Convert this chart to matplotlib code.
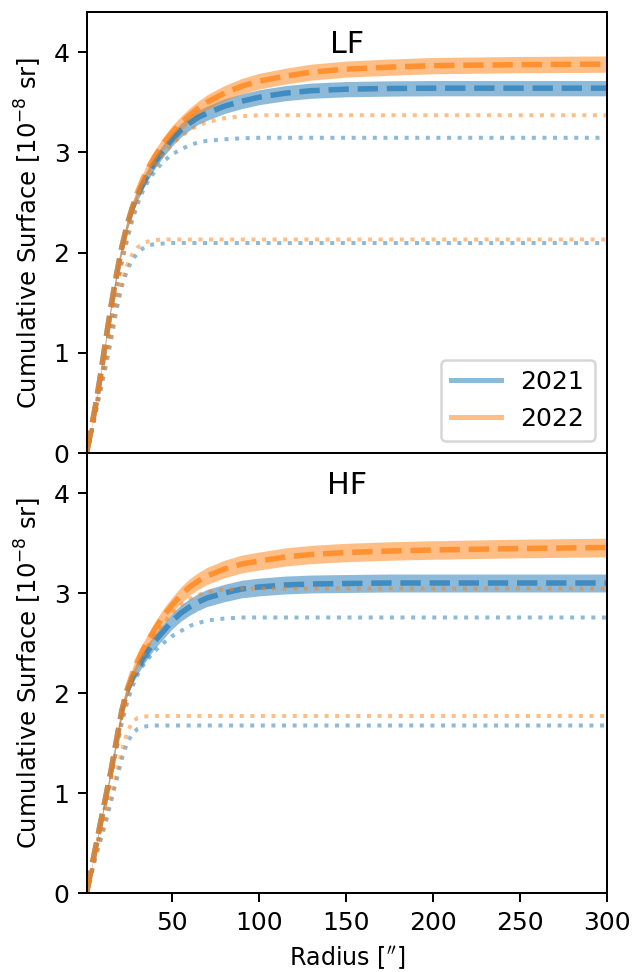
import numpy as np
import matplotlib
matplotlib.use("Agg")
import matplotlib.pyplot as plt
from matplotlib.lines import Line2D

# Radii at which the cumulative surfaces are tabulated [arcsec]
radius = [1, 3, 6, 9, 12, 15, 18, 21, 24, 27, 30, 33, 36, 40, 45,
          50, 55, 60, 65, 70, 80, 90, 100, 115, 130, 150, 175, 200, 250, 300]

# LF band, cumulative surface [1e-8 sr]
lf_2021 = [0.02, 0.20, 0.48, 0.80, 1.15, 1.48, 1.78, 2.05, 2.27, 2.44,
           2.57, 2.68, 2.78, 2.90, 3.02, 3.13, 3.22, 3.29, 3.35, 3.39,
           3.46, 3.51, 3.55, 3.59, 3.615, 3.63, 3.637, 3.64, 3.64, 3.64]
lf_2022 = [0.02, 0.20, 0.48, 0.80, 1.15, 1.48, 1.78, 2.05, 2.27, 2.45,
           2.60, 2.73, 2.84, 2.96, 3.09, 3.20, 3.29, 3.37, 3.44, 3.50,
           3.59, 3.66, 3.71, 3.76, 3.80, 3.83, 3.85, 3.865, 3.875, 3.88]
lf_2021_dot_hi = [0.00, 0.17, 0.44, 0.73, 1.03, 1.34, 1.63, 1.90, 2.12, 2.32,
                  2.48, 2.61, 2.71, 2.81, 2.91, 2.98, 3.03, 3.07, 3.10, 3.115,
                  3.13, 3.14, 3.145, 3.145, 3.145, 3.145, 3.145, 3.145, 3.145, 3.145]
lf_2022_dot_hi = [0.00, 0.17, 0.44, 0.73, 1.03, 1.34, 1.64, 1.92, 2.15, 2.36,
                  2.53, 2.65, 2.76, 2.87, 2.99, 3.08, 3.16, 3.22, 3.27, 3.30,
                  3.34, 3.36, 3.37, 3.37, 3.37, 3.37, 3.37, 3.37, 3.37, 3.37]
lf_2021_dot_lo = [0.00, 0.16, 0.40, 0.64, 0.88, 1.14, 1.43, 1.66, 1.82, 1.93,
                  1.99, 2.04, 2.07, 2.085, 2.09, 2.095, 2.095, 2.095, 2.095, 2.095,
                  2.095, 2.095, 2.095, 2.095, 2.095, 2.095, 2.095, 2.095, 2.095, 2.095]
lf_2022_dot_lo = [0.00, 0.17, 0.42, 0.67, 0.92, 1.19, 1.48, 1.71, 1.87, 1.98,
                  2.05, 2.09, 2.11, 2.125, 2.13, 2.13, 2.13, 2.13, 2.13, 2.13,
                  2.13, 2.13, 2.13, 2.13, 2.13, 2.13, 2.13, 2.13, 2.13, 2.13]

# HF band, cumulative surface [1e-8 sr]
hf_2021 = [0.02, 0.20, 0.46, 0.72, 0.98, 1.24, 1.53, 1.82, 2.02, 2.15,
           2.25, 2.34, 2.42, 2.52, 2.62, 2.72, 2.80, 2.86, 2.91, 2.95,
           3.00, 3.04, 3.06, 3.08, 3.09, 3.095, 3.10, 3.10, 3.10, 3.10]
hf_2022 = [0.02, 0.20, 0.46, 0.72, 0.98, 1.24, 1.53, 1.82, 2.03, 2.19,
           2.32, 2.43, 2.52, 2.64, 2.77, 2.88, 2.98, 3.06, 3.12, 3.17,
           3.24, 3.29, 3.32, 3.36, 3.385, 3.405, 3.42, 3.43, 3.445, 3.455]
hf_2021_dot_hi = [0.00, 0.17, 0.42, 0.66, 0.91, 1.17, 1.44, 1.70, 1.90, 2.06,
                  2.18, 2.27, 2.34, 2.42, 2.50, 2.57, 2.62, 2.67, 2.70, 2.725,
                  2.745, 2.755, 2.755, 2.755, 2.755, 2.755, 2.755, 2.755, 2.755, 2.755]
hf_2022_dot_hi = [0.00, 0.17, 0.42, 0.66, 0.91, 1.17, 1.45, 1.74, 1.95, 2.12,
                  2.26, 2.37, 2.47, 2.58, 2.70, 2.80, 2.88, 2.94, 2.98, 3.01,
                  3.035, 3.045, 3.045, 3.045, 3.045, 3.045, 3.045, 3.045, 3.045, 3.045]
hf_2021_dot_lo = [0.00, 0.15, 0.36, 0.54, 0.72, 0.93, 1.13, 1.34, 1.50, 1.59,
                  1.64, 1.66, 1.67, 1.675, 1.675, 1.675, 1.675, 1.675, 1.675, 1.675,
                  1.675, 1.675, 1.675, 1.675, 1.675, 1.675, 1.675, 1.675, 1.675, 1.675]
hf_2022_dot_lo = [0.00, 0.16, 0.38, 0.57, 0.76, 0.98, 1.20, 1.42, 1.60, 1.71,
                  1.75, 1.762, 1.768, 1.77, 1.77, 1.77, 1.77, 1.77, 1.77, 1.77,
                  1.77, 1.77, 1.77, 1.77, 1.77, 1.77, 1.77, 1.77, 1.77, 1.77]

# Fractional uncertainty of each main curve
rel_err = {"LF": {"2021": 0.021, "2022": 0.021},
           "HF": {"2021": 0.029, "2022": 0.027}}

years = ["2021", "2022"]
colors = {"2021": "#1f77b4", "2022": "#ff7f0e"}

panels = {
    "LF": {"main": {"2021": lf_2021, "2022": lf_2022},
           "dot_hi": {"2021": lf_2021_dot_hi, "2022": lf_2022_dot_hi},
           "dot_lo": {"2021": lf_2021_dot_lo, "2022": lf_2022_dot_lo}},
    "HF": {"main": {"2021": hf_2021, "2022": hf_2022},
           "dot_hi": {"2021": hf_2021_dot_hi, "2022": hf_2022_dot_hi},
           "dot_lo": {"2021": hf_2021_dot_lo, "2022": hf_2022_dot_lo}},
}

dpi = 180
fig = plt.figure(figsize=(635 / dpi, 972 / dpi), dpi=dpi)
left, right = 87 / 635, 607 / 635
top, mid, bottom = 1 - 12 / 972, 1 - 453 / 972, 1 - 893 / 972
ax_lf = fig.add_axes([left, mid, right - left, top - mid])
ax_hf = fig.add_axes([left, bottom, right - left, mid - bottom], sharex=ax_lf)

r = np.array(radius)
for ax, name in [(ax_lf, "LF"), (ax_hf, "HF")]:
    data = panels[name]
    for yr in years:
        c = colors[yr]
        v = np.array(data["main"][yr])
        e = rel_err[name][yr]
        ax.fill_between(r, v * (1 - e), v * (1 + e), color=c, alpha=0.5, lw=0)
        ax.plot(r, v, ls="--", color=c, alpha=0.7, lw=2.2)
        ax.plot(r, data["dot_hi"][yr], ls=":", color=c, alpha=0.5, lw=1.6)
        ax.plot(r, data["dot_lo"][yr], ls=":", color=c, alpha=0.5, lw=1.6)
    ax.set_ylim(0, 4.4)
    ax.set_yticks([0, 1, 2, 3, 4])
    ax.set_ylabel(r"Cumulative Surface [$10^{-8}$ sr]", fontsize=9.7)
    ax.text(0.5, 0.927, name, transform=ax.transAxes, ha="center", va="center", fontsize=12)
    ax.tick_params(labelsize=10)

ax_lf.set_xlim(1, 300)
ax_lf.set_xticks([50, 100, 150, 200, 250, 300])
ax_lf.tick_params(axis="x", bottom=False, labelbottom=False)
ax_hf.set_xlabel(r"Radius [$''$]", fontsize=9.5)

handles = [Line2D([], [], color=colors[y], alpha=0.5, lw=2) for y in years]
ax_lf.legend(handles, years, loc="lower right", fontsize=10)

fig.savefig("out.png", dpi=dpi)
